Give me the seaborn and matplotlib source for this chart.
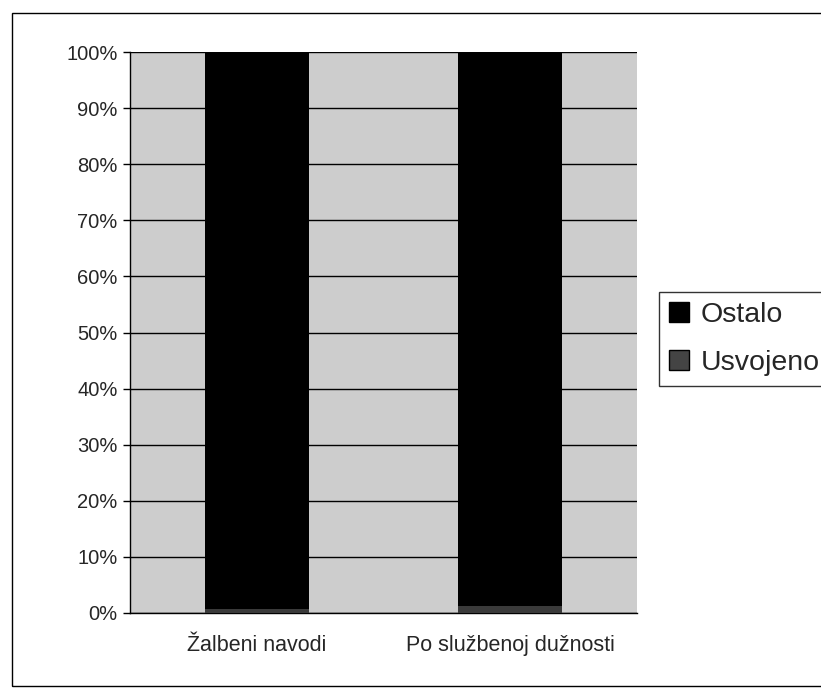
import matplotlib
matplotlib.use("Agg")
import matplotlib.pyplot as plt
import seaborn as sns
import pandas as pd
from matplotlib.patches import Rectangle, Patch
from matplotlib.ticker import FixedLocator

categories = ["Žalbeni navodi", "Po službenoj dužnosti"]
usvojeno = [0.8, 1.2]
ostalo = [99.2, 98.8]
yticks = [0, 10, 20, 30, 40, 50, 60, 70, 80, 90, 100]

sns.set_style("white")
plt.rcParams['font.family'] = ['Liberation Sans', 'DejaVu Sans']

df = pd.DataFrame({"cat": categories,
                   "total": [u + o for u, o in zip(usvojeno, ostalo)],
                   "usv": usvojeno})

W, H = 821, 689
fig = plt.figure(figsize=(W/100, H/100), dpi=100)
ax = fig.add_axes([130/W, 1-613/H, (637-130)/W, (613-52)/H])
ax.set_facecolor("#cdcdcd")

sns.barplot(data=df, x="cat", y="total", color="black", width=0.41,
            ax=ax, zorder=3, saturation=1, edgecolor="black", linewidth=0)
sns.barplot(data=df, x="cat", y="usv", color="#3a3a3a", width=0.41,
            ax=ax, zorder=4, saturation=1, edgecolor="black", linewidth=0)

ax.set_xlim(-0.5, 1.5)
ax.set_ylim(0, 100)
ax.set_yticks(yticks)
ax.set_yticklabels([f"{v}%" for v in yticks], fontsize=14.5)
ax.yaxis.grid(True, color="black", linewidth=1, zorder=1)
ax.set_axisbelow(True)
ax.set_xlabel("")
ax.set_ylabel("")
ax.tick_params(axis="x", which="major", length=0, labelsize=15.5, pad=16)
ax.xaxis.set_minor_locator(FixedLocator([-0.5, 0.5, 1.5]))
ax.tick_params(axis="x", which="minor", length=5, width=1, color="black", direction="out")
ax.tick_params(axis="y", length=5, width=1, color="black", direction="out", left=True, pad=4)
for s in ["top", "right"]:
    ax.spines[s].set_visible(False)
for s in ["left", "bottom"]:
    ax.spines[s].set_color("black")
    ax.spines[s].set_linewidth(1)

# outer chart border
fig.patches.append(Rectangle((12/W, 1-686/H), 1.2, (686-13)/H,
                             transform=fig.transFigure, fill=False,
                             edgecolor="black", linewidth=1))

handles = [Patch(facecolor="black", edgecolor="black", label="Ostalo"),
           Patch(facecolor="#444444", edgecolor="black", label="Usvojeno")]
leg = fig.legend(handles=handles, loc="upper left",
                 bbox_to_anchor=(659/W, 1-292/H), fontsize=20.5,
                 frameon=True, fancybox=False, edgecolor="black",
                 handlelength=0.7, handleheight=0.7, handletextpad=0.4,
                 borderpad=0.36, borderaxespad=0, labelspacing=0.75)
leg.get_frame().set_linewidth(1)

fig.savefig("out.png", dpi=100)
